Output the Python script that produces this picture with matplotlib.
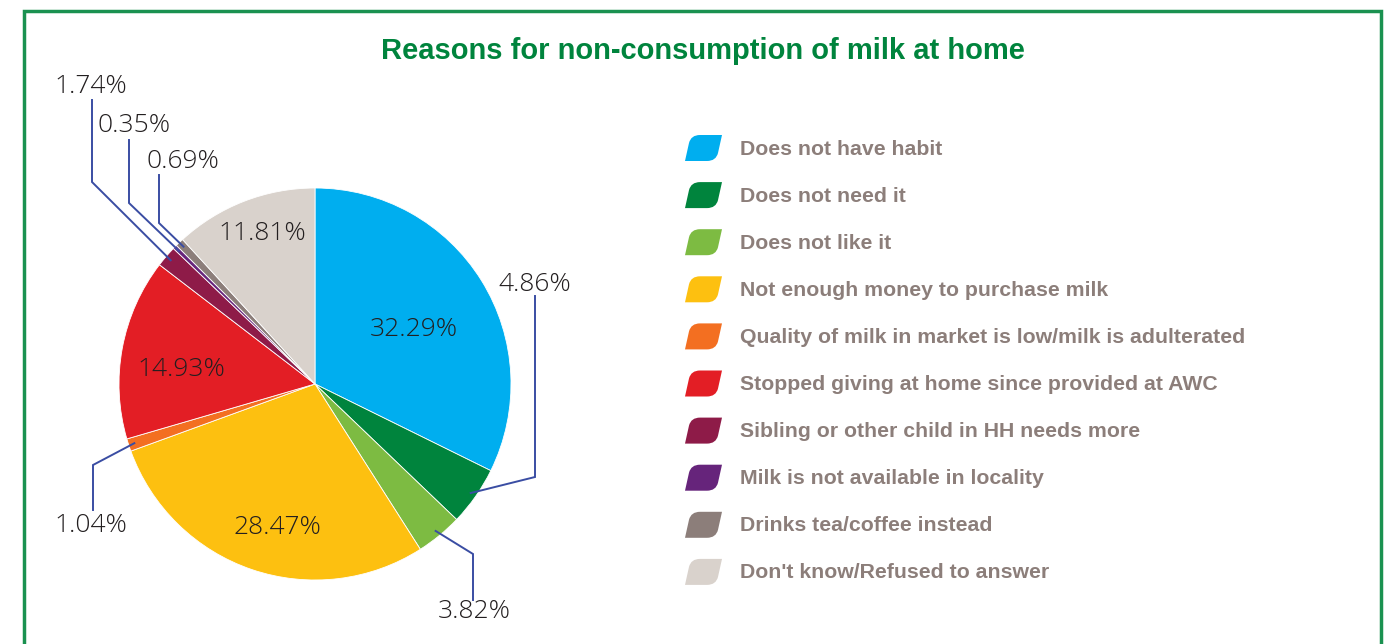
import matplotlib
matplotlib.use("Agg")
import matplotlib.pyplot as plt
import numpy as np
from matplotlib.path import Path
from matplotlib.patches import PathPatch

W, H = 1397, 644

REASONS = [
    "Does not have habit",
    "Does not need it",
    "Does not like it",
    "Not enough money to purchase milk",
    "Quality of milk in market is low/milk is adulterated",
    "Stopped giving at home since provided at AWC",
    "Sibling or other child in HH needs more",
    "Milk is not available in locality",
    "Drinks tea/coffee instead",
    "Don't know/Refused to answer",
]
SHARES = [32.29, 4.86, 3.82, 28.47, 1.04, 14.93, 1.74, 0.35, 0.69, 11.81]
COLORS = ["#00AEEF", "#00843D", "#7DBB42", "#FDC010", "#F36F21",
          "#E31E25", "#8E1B48", "#66247B", "#8C7E7A", "#D9D2CC"]

# labels drawn inside the wedge: index -> text position (px)
INSIDE = {0: (414, 329), 3: (277, 527), 5: (181, 369), 9: (262, 233)}
# labels with leader lines: index -> (elbow px, line end px, text px)
OUTSIDE = {
    1: ((535, 477), (535, 296), (535, 284)),
    2: ((473, 554), (473, 600), (474, 611)),
    4: ((93, 465), (93, 510), (91, 526)),
    6: ((92, 182), (92, 100), (91, 86)),
    7: ((129, 203), (129, 140), (134, 125)),
    8: ((159, 223), (159, 175), (183, 161)),
}

CX, CY, R = 315, 384, 196
GREEN = "#00843D"
LEADER = "#3A4DA3"
TXT = "#231F20"
LEG_TXT = "#8C7E7A"


def Y(py):
    return H - py


fig = plt.figure(figsize=(W / 100, H / 100), dpi=100)
ax = fig.add_axes([0, 0, 1, 1])

wedges, _ = ax.pie(SHARES, colors=COLORS, startangle=90, counterclock=False,
                   center=(CX, Y(CY)), radius=R,
                   wedgeprops=dict(linewidth=0.6, edgecolor="white"))
ax.set_xlim(0, W)
ax.set_ylim(0, H)
ax.set_aspect("equal")
ax.axis("off")

lab_font = dict(family="Open Sans", weight="light", fontsize=19, color=TXT)

for i, (tx, ty) in INSIDE.items():
    ax.text(tx, Y(ty), f"{SHARES[i]:.2f}%", ha="center", va="center", **lab_font)

for i, (elbow, end, tpos) in OUTSIDE.items():
    w = wedges[i]
    mid = np.deg2rad((w.theta1 + w.theta2) / 2)
    ax_ = CX + 0.97 * R * np.cos(mid)
    ay_ = Y(CY) + 0.97 * R * np.sin(mid)
    ax.plot([ax_, elbow[0], end[0]], [ay_, Y(elbow[1]), Y(end[1])],
            color=LEADER, lw=1.4, solid_joinstyle="miter")
    ax.text(tpos[0], Y(tpos[1]), f"{SHARES[i]:.2f}%", ha="center", va="center", **lab_font)

# title
ax.text(703, Y(51), "Reasons for non-consumption of milk at home", ha="center", va="center",
        family="Liberation Sans", weight="bold", fontsize=21, color=GREEN)

# frame (bottom edge runs off the picture)
ax.plot([24, 24, 1381, 1381], [-5, Y(11), Y(11), -5], color="#1A9150", lw=2.5,
        solid_joinstyle="miter")

# legend
row0, step = 148, 47.1
for k, (name, col) in enumerate(zip(REASONS, COLORS)):
    cy = row0 + k * step
    verts = [(685, cy + 13), (689, cy - 5), (691, cy - 13), (700, cy - 13),
             (722, cy - 13), (718, cy + 5), (716, cy + 13), (707, cy + 13), (685, cy + 13)]
    codes = [Path.MOVETO, Path.LINETO, Path.CURVE3, Path.CURVE3,
             Path.LINETO, Path.LINETO, Path.CURVE3, Path.CURVE3, Path.CLOSEPOLY]
    ax.add_patch(PathPatch(Path([(x, Y(y)) for x, y in verts], codes),
                           facecolor=col, edgecolor="none"))
    ax.text(740, Y(cy + 1), name, ha="left", va="center", family="Liberation Sans",
            weight="bold", fontsize=15.3, color=LEG_TXT)

fig.savefig("out.png", dpi=100)
